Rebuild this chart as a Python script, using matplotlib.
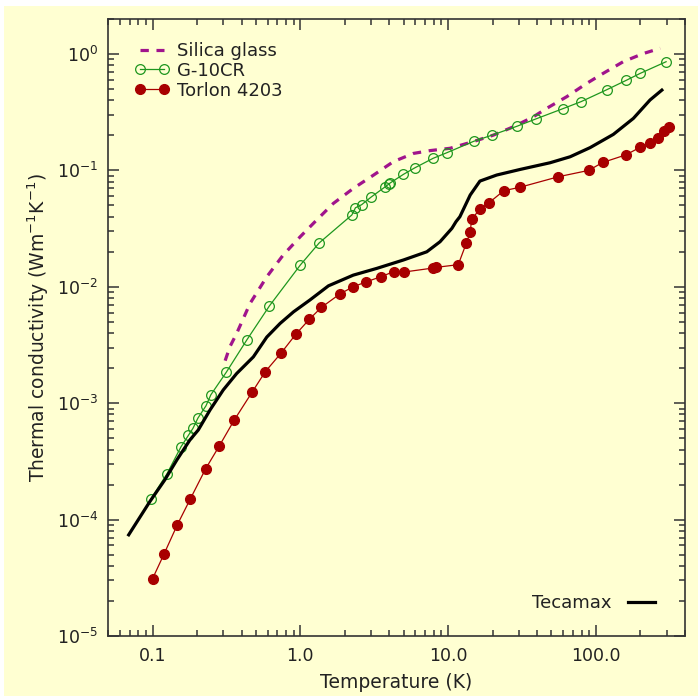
import matplotlib
matplotlib.use('Agg')
import matplotlib.pyplot as plt
import matplotlib.ticker as mticker
from matplotlib.patches import Rectangle

plt.rcParams['font.family'] = 'DejaVu Sans'
plt.rcParams['lines.scale_dashes'] = False

# ---- data ----
silica_T = [0.31, 0.334, 0.371, 0.457, 0.593, 0.767, 1.0, 1.29, 1.67, 2.28, 3.12, 4.26,
            5.82, 7.54, 10.3, 14.8, 20.2, 27.6, 37.7, 46.5, 63.4, 86.6, 112, 153, 209, 272]
silica_k = [2.32e-3, 3.06e-3, 3.98e-3, 7.2e-3, 0.0122, 0.0188, 0.027, 0.0375, 0.052, 0.070,
            0.091, 0.119, 0.140, 0.148, 0.155, 0.177, 0.201, 0.237, 0.289, 0.342, 0.43,
            0.56, 0.683, 0.86, 1.01, 1.12]

g10_T = [0.097, 0.125, 0.156, 0.175, 0.188, 0.203, 0.23, 0.248, 0.316, 0.434, 0.617,
         1.0, 1.34, 2.23, 2.36, 2.6, 3.0, 3.76, 3.95, 4.05, 4.98, 5.97, 7.9, 9.8,
         14.9, 19.8, 29.3, 39.2, 59.6, 79.3, 118, 160, 199, 298]
g10_k = [1.49e-4, 2.46e-4, 4.23e-4, 5.3e-4, 6.1e-4, 7.46e-4, 9.5e-4, 1.18e-3, 1.85e-3,
         3.49e-3, 6.84e-3, 0.0154, 0.0238, 0.0414, 0.0478, 0.0508, 0.0588, 0.0725,
         0.076, 0.078, 0.0925, 0.1055, 0.127, 0.142, 0.178, 0.201, 0.24, 0.277, 0.339,
         0.39, 0.493, 0.594, 0.682, 0.859]

torlon_T = [0.1, 0.12, 0.147, 0.18, 0.229, 0.282, 0.358, 0.471, 0.58, 0.74, 0.93, 1.15,
            1.39, 1.856, 2.26, 2.77, 3.5, 4.28, 5.03, 7.9, 8.3, 11.7, 13.3, 14.1, 14.4,
            16.4, 18.9, 23.8, 30.5, 55.7, 89, 111, 159, 199, 233, 264, 289, 313]
torlon_k = [3.1e-5, 5.1e-5, 9.0e-5, 1.5e-4, 2.74e-4, 4.26e-4, 7.2e-4, 1.24e-3, 1.87e-3,
            2.69e-3, 3.9e-3, 5.26e-3, 6.67e-3, 8.7e-3, 9.96e-3, 0.011, 0.0122, 0.0135,
            0.0134, 0.0145, 0.0147, 0.0155, 0.0239, 0.0294, 0.038, 0.0466, 0.0528,
            0.067, 0.0716, 0.0883, 0.100, 0.117, 0.136, 0.158, 0.171, 0.19, 0.218, 0.234]

tecamax_T = [0.069, 0.096, 0.121, 0.146, 0.179, 0.204, 0.245, 0.301, 0.371, 0.481, 0.593,
             0.73, 0.90, 1.16, 1.55, 2.28, 3.29, 4.98, 7.17, 8.81, 10.6, 11.3, 12.0, 14.1,
             16.4, 21.3, 30.7, 48.9, 66.8, 91.2, 131, 179, 232, 279]
tecamax_k = [7.4e-5, 1.43e-4, 2.19e-4, 3.25e-4, 4.83e-4, 5.89e-4, 8.75e-4, 1.3e-3, 1.8e-3,
             2.5e-3, 3.7e-3, 4.85e-3, 6.1e-3, 7.7e-3, 0.0102, 0.0126, 0.0144, 0.017, 0.020,
             0.0244, 0.0318, 0.0363, 0.040, 0.0615, 0.081, 0.0913, 0.102, 0.1164, 0.131,
             0.157, 0.204, 0.28, 0.403, 0.49]

xticks = [0.1, 1.0, 10.0, 100.0]
xticklabels = ['0.1', '1.0', '10.0', '100.0']

bg = '#FFFFD2'
purple = '#A0148C'
green = '#1E961E'
red = '#A80000'
txt = '#222222'

fig = plt.figure(figsize=(6.98, 6.96), dpi=100, facecolor='white')
fig.patches.append(Rectangle((4 / 698, 0), 1, 1 - 6 / 696, transform=fig.transFigure,
                             facecolor=bg, edgecolor='none', zorder=-10))
ax = fig.add_axes([108 / 698, 1 - 636 / 696, 577 / 698, 617 / 696])
ax.set_facecolor(bg)

ax.plot(silica_T, silica_k, color=purple, linewidth=2.3, dashes=(6, 5.5), label='Silica glass')
ax.plot(g10_T, g10_k, color=green, linewidth=0.9, marker='o', markersize=7,
        markerfacecolor='none', markeredgecolor=green, markeredgewidth=0.9, label='G-10CR')
ax.plot(torlon_T, torlon_k, color=red, linewidth=0.9, marker='o', markersize=7,
        markerfacecolor=red, markeredgecolor=red, label='Torlon 4203')
tec, = ax.plot(tecamax_T, tecamax_k, color='black', linewidth=2.3, label='Tecamax')

ax.set_xscale('log')
ax.set_yscale('log')
ax.set_xlim(0.05, 400)
ax.set_ylim(1e-5, 2)

ax.xaxis.set_major_locator(mticker.FixedLocator(xticks))
ax.xaxis.set_major_formatter(mticker.FixedFormatter(xticklabels))
ax.xaxis.set_minor_locator(mticker.LogLocator(base=10, subs=range(2, 10), numticks=20))
ax.xaxis.set_minor_formatter(mticker.NullFormatter())
ax.yaxis.set_major_locator(mticker.LogLocator(base=10, numticks=20))
ax.yaxis.set_minor_locator(mticker.LogLocator(base=10, subs=range(2, 10), numticks=20))
ax.yaxis.set_minor_formatter(mticker.NullFormatter())

ax.tick_params(which='both', direction='in', top=True, right=True, color='#333333',
               labelsize=12.5, labelcolor=txt, width=1.1, pad=7)
ax.tick_params(axis='x', which='major', pad=8)
ax.tick_params(which='major', length=8)
ax.tick_params(which='minor', length=4.5)
for sp in ax.spines.values():
    sp.set_linewidth(1.2)
    sp.set_color('#333333')

ax.set_xlabel('Temperature (K)', fontsize=13.5, color=txt, labelpad=6)
ax.set_ylabel('Thermal conductivity (Wm$^{-1}$K$^{-1}$)', fontsize=13.5, color=txt, labelpad=4)

leg1 = ax.legend(handles=ax.get_lines()[:3], loc='upper left', frameon=False, fontsize=13,
                 numpoints=2, handlelength=1.9, handletextpad=0.4, labelspacing=0.1,
                 borderaxespad=0, borderpad=0, labelcolor=txt,
                 bbox_to_anchor=(27 / 577, 1 - 23 / 617))
ax.add_artist(leg1)
ax.legend(handles=[tec], loc='center right', frameon=False, fontsize=13, markerfirst=False,
          handlelength=1.5, handletextpad=0.9, borderaxespad=0, borderpad=0, labelcolor=txt,
          bbox_to_anchor=(1 - 30 / 577, 33 / 617))

fig.savefig('out.png', dpi=100, facecolor='white')
